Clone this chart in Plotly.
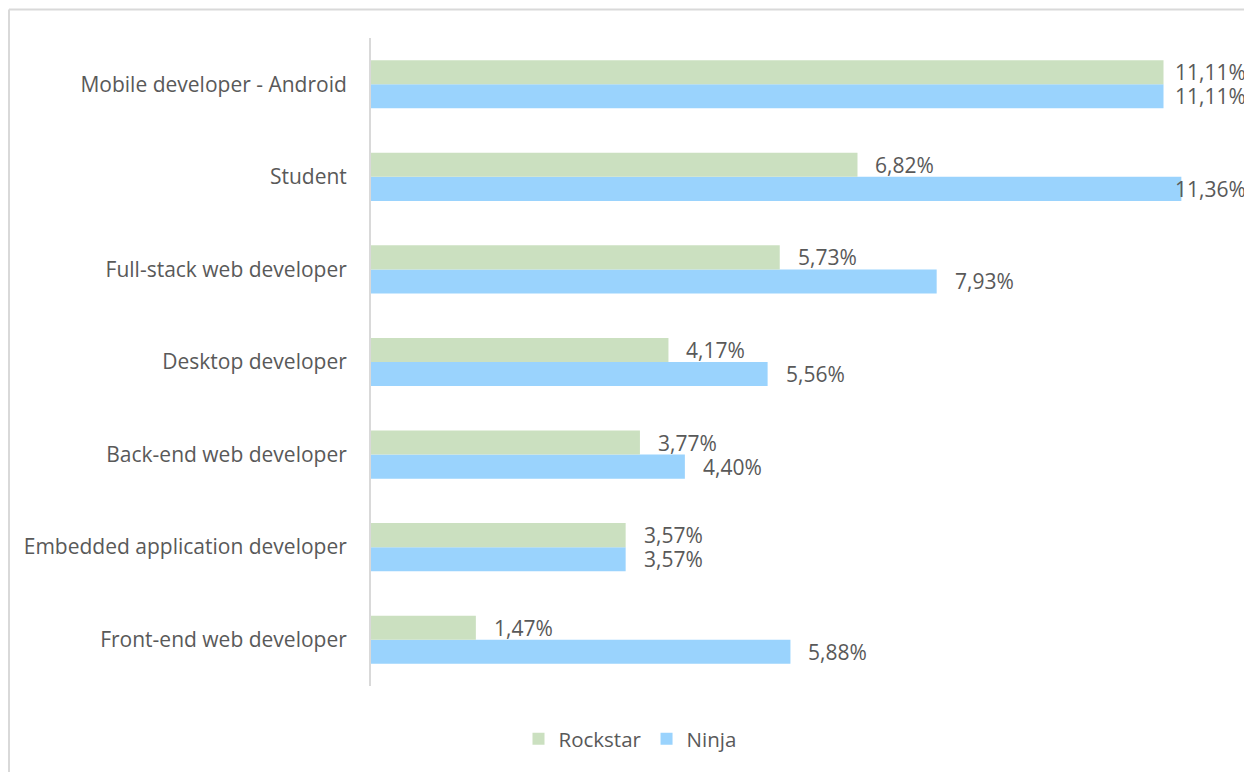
import plotly.graph_objects as go

categories = ["Mobile developer - Android", "Student", "Full-stack web developer",
              "Desktop developer", "Back-end web developer",
              "Embedded application developer", "Front-end web developer"]
rockstar = [11.11, 6.82, 5.73, 4.17, 3.77, 3.57, 1.47]
ninja = [11.11, 11.36, 7.93, 5.56, 4.40, 3.57, 5.88]

# page has an 8px body margin; figure sized to fill the rest of the window
OFF = 8
W, H = 1252 - OFF, 772 - OFF
ML, MR, MT, MB = 371 - OFF, 25, 38 - OFF, 86
XMAX = 12
PW, PH = W - ML - MR, H - MT - MB
GREEN = "#CBE0C0"
BLUE = "#9AD3FD"
TXT = "#595959"
FONT = "Open Sans"
FS = 20.5
FS_LABEL = 21
FS_TICK = 21
BARGAP = 0.48


def fmt(v):
    return f"{v:.2f}".replace(".", ",") + "%"


fig = go.Figure()
fig.add_trace(go.Bar(name="Ninja", y=categories, x=ninja, orientation="h",
                     marker=dict(color=BLUE, line=dict(width=0)), hoverinfo="skip"))
fig.add_trace(go.Bar(name="Rockstar", y=categories, x=rockstar, orientation="h",
                     marker=dict(color=GREEN, line=dict(width=0)), hoverinfo="skip"))

band = PH / len(categories)
off = band * (1 - BARGAP) / 4
gap = 16
est_w = 70
right_px = 1248 - OFF
annotations = []
for vals, shift in ((rockstar, off), (ninja, -off)):
    for cat, v in zip(categories, vals):
        end_px = ML + v / XMAX * PW
        if end_px + gap + est_w > right_px:
            annotations.append(dict(x=(right_px - ML) / PW, xref="paper", y=cat, yref="y",
                                    xanchor="right", yanchor="middle", yshift=shift,
                                    text=fmt(v), showarrow=False,
                                    font=dict(family=FONT, size=FS_LABEL, color=TXT)))
        else:
            annotations.append(dict(x=v, xref="x", y=cat, yref="y",
                                    xanchor="left", yanchor="middle", xshift=gap, yshift=shift,
                                    text=fmt(v), showarrow=False,
                                    font=dict(family=FONT, size=FS_LABEL, color=TXT)))

border = "#D9D9D9"
bx = 1
by = 1.5
shapes = [
    dict(type="line", xref="paper", yref="paper", layer="below",
         x0=(bx - ML) / PW, x1=(W + 5 - ML) / PW,
         y0=(H - MB - by) / PH, y1=(H - MB - by) / PH,
         line=dict(color=border, width=2)),
    dict(type="line", xref="paper", yref="paper", layer="below",
         x0=(bx - ML) / PW, x1=(bx - ML) / PW,
         y0=(H - MB - by) / PH, y1=(H - MB - H - 5) / PH,
         line=dict(color=border, width=2)),
]

fig.update_layout(
    width=W, height=H,
    margin=dict(l=ML, r=MR, t=MT, b=MB, autoexpand=False),
    paper_bgcolor="white", plot_bgcolor="white",
    barmode="group", bargap=BARGAP, bargroupgap=0,
    font=dict(family=FONT, size=FS, color=TXT),
    xaxis=dict(range=[0, XMAX], showgrid=False, zeroline=False, showline=False,
               showticklabels=False, ticks=""),
    yaxis=dict(categoryorder="array", categoryarray=categories[::-1],
               showgrid=False, zeroline=False, showline=True, linecolor="#D9D9D9",
               linewidth=2, ticks="", ticklabelstandoff=18,
               tickfont=dict(family=FONT, size=FS_TICK, color=TXT)),
    legend=dict(orientation="h", xref="container", yref="container",
                x=0.5, y=1 - (739 - OFF) / H, xanchor="center", yanchor="middle",
                traceorder="reversed", font=dict(family=FONT, size=FS, color=TXT),
                itemwidth=30),
    annotations=annotations,
    shapes=shapes,
    showlegend=True,
)

fig.write_html("out.html")
